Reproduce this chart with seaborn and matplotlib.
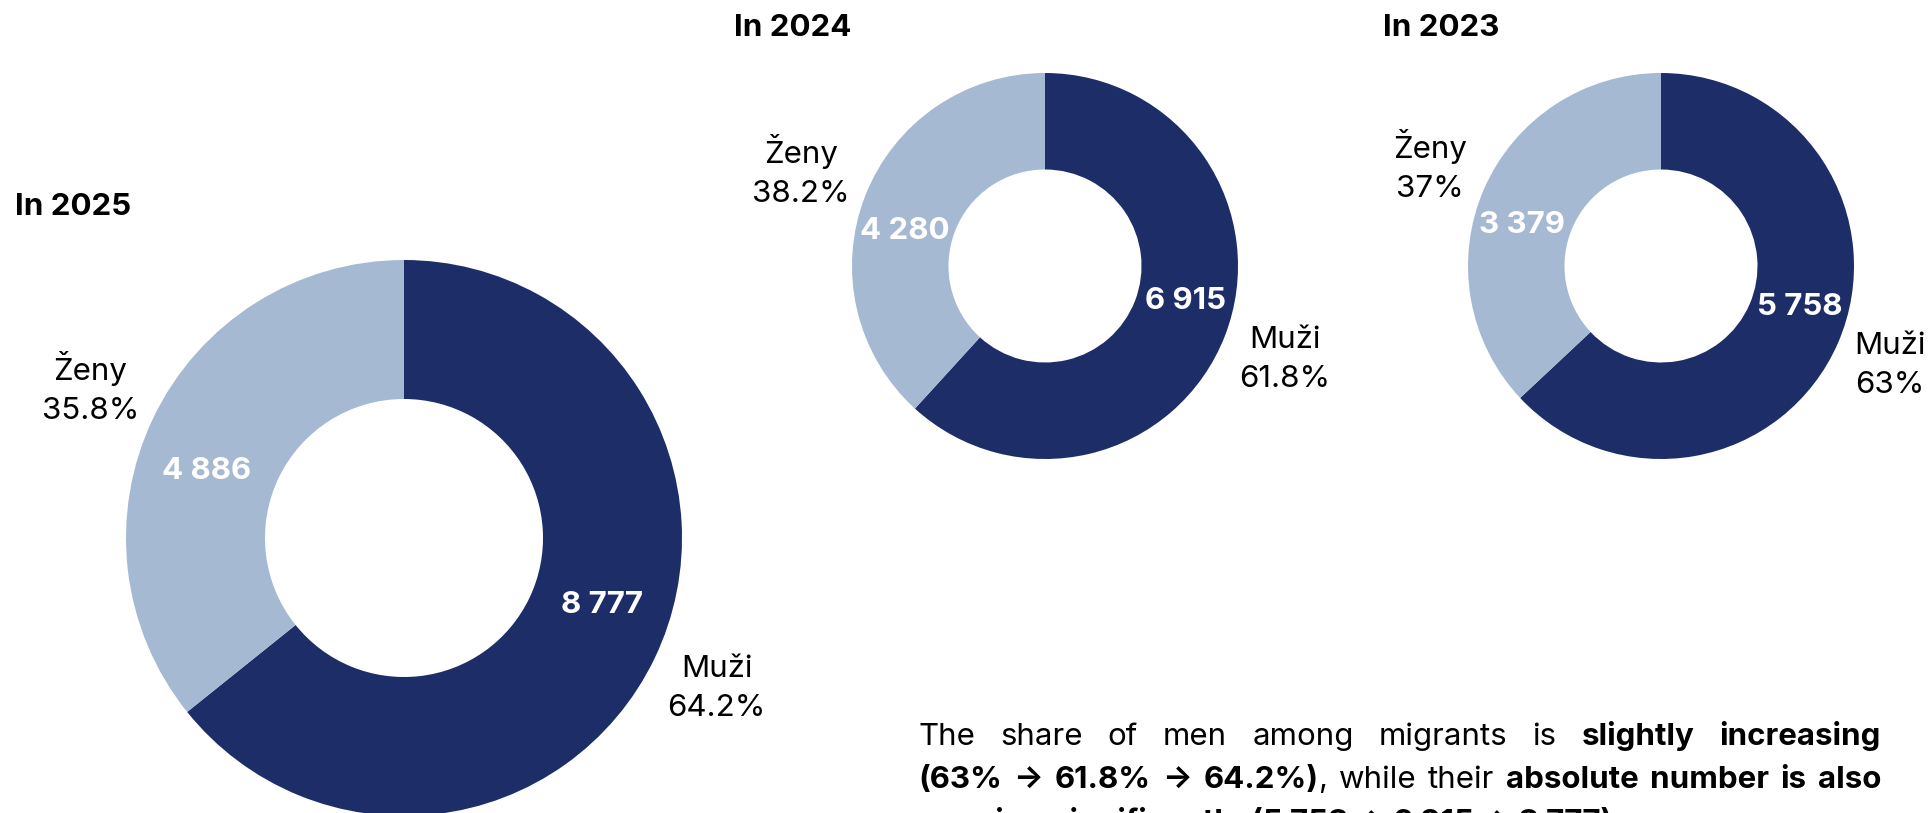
import numpy as np
import matplotlib
matplotlib.use("Agg")
import matplotlib.pyplot as plt
import seaborn as sns

# ---------------- data ----------------
years = ["2025", "2024", "2023"]
titles = ["In 2025", "In 2024", "In 2023"]
categories = ["Muži", "Ženy"]
men = [8777, 6915, 5758]
women = [4886, 4280, 3379]

# ---------------- style ----------------
sns.set_theme(style="white")
FONT = ["Inter", "DejaVu Sans"]
plt.rcParams["font.family"] = FONT
palette = sns.color_palette(["#1D2D68", "#A6B9D3"])

W, H, DPI = 1932, 813, 100
FS = 22.5
fig = plt.figure(figsize=(W / DPI, H / DPI), dpi=DPI)
fig.patch.set_facecolor("white")
renderer = fig.canvas.get_renderer()

# donut placement in pixels: centre x, centre y, outer radius
layout = [(404, 538, 278), (1045, 266, 193), (1661, 266, 193)]
title_pos = [(15, 207), (734, 28), (1383, 28)]
LABEL_GAP = 10  # px between ring and outer label box


def fmt_num(n):
    return f"{n:,}".replace(",", " ")


def fmt_pct(v):
    s = f"{v:.1f}"
    if s.endswith(".0"):
        s = s[:-2]
    return s + "%"


for i in range(len(years)):
    cx, cy, R = layout[i]
    ax = fig.add_axes([(cx - R) / W, 1 - (cy + R) / H, 2 * R / W, 2 * R / H])
    vals = [men[i], women[i]]
    total = sum(vals)
    wedges, _ = ax.pie(vals, colors=palette, startangle=90, counterclock=False,
                       radius=1, wedgeprops=dict(width=0.5, linewidth=0, edgecolor="none"))
    for w in wedges:
        w.set_clip_on(False)
    ax.set_xlim(-1, 1)
    ax.set_ylim(-1, 1)
    ax.set_aspect("equal")
    ax.axis("off")
    for w, v, cat in zip(wedges, vals, categories):
        mid = (w.theta1 + w.theta2) / 2
        a_in = np.deg2rad(mid + 7)
        ax.text(0.75 * np.cos(a_in), 0.75 * np.sin(a_in), fmt_num(v), color="white",
                fontsize=FS, fontweight="bold", ha="center", va="center", clip_on=False)
        a_out = np.deg2rad(mid)
        t = ax.text(0, 0, f"{cat}\n{fmt_pct(100 * v / total)}", color="black", fontsize=FS,
                    ha="center", va="center", linespacing=1.5, clip_on=False)
        bb = t.get_window_extent(renderer)
        hw, hh = bb.width / 2, bb.height / 2
        dist_px = R + LABEL_GAP + hw * abs(np.cos(a_out)) + hh * abs(np.sin(a_out))
        r_out = dist_px / R
        t.set_position((r_out * np.cos(a_out), r_out * np.sin(a_out)))
    tx, ty = title_pos[i]
    fig.text(tx / W, 1 - ty / H, titles[i], fontsize=FS, fontweight="bold",
             ha="left", va="center", color="black")

# ---------------- paragraph (justified) ----------------
N, B = "normal", "bold"
para_lines = [
    [[("The", N)], [("share", N)], [("of", N)], [("men", N)], [("among", N)],
     [("migrants", N)], [("is", N)], [("slightly", B)], [("increasing", B)]],
    [[("(63%", B)], [("→", B)], [("61.8%", B)], [("→", B)], [("64.2%)", B), (",", N)],
     [("while", N)], [("their", N)], [("absolute", B)], [("number", B)], [("is", B)], [("also", B)]],
    [[("growing", B)], [("significantly", B)], [("(5 758 → 6 915 → 8 777)", B)], [(".", N)]],
]
justify = [True, True, False]
baselines = [745, 788, 831]
left_px, right_px = 918, 1881


def measure(s, weight):
    t = fig.text(0, 0, s, fontsize=FS, fontweight=weight)
    wdt = t.get_window_extent(renderer).width
    t.remove()
    return wdt


space_w = measure("a a", N) - measure("aa", N)

for words, just, base in zip(para_lines, justify, baselines):
    seg_w = [[measure(s, wt) for s, wt in word] for word in words]
    word_w = [sum(ws) for ws in seg_w]
    if just:
        gap = (right_px - left_px - sum(word_w)) / (len(words) - 1)
    else:
        gap = space_w
    x = left_px
    for k, (word, ws) in enumerate(zip(words, seg_w)):
        if not just and k == len(words) - 1 and word[0][0] == ".":
            x -= gap
        for (s, wt), sw in zip(word, ws):
            fig.text(x / W, 1 - base / H, s, fontsize=FS, fontweight=wt,
                     ha="left", va="baseline", color="black")
            x += sw
        x += gap

fig.savefig("out.png", dpi=DPI, facecolor="white")
